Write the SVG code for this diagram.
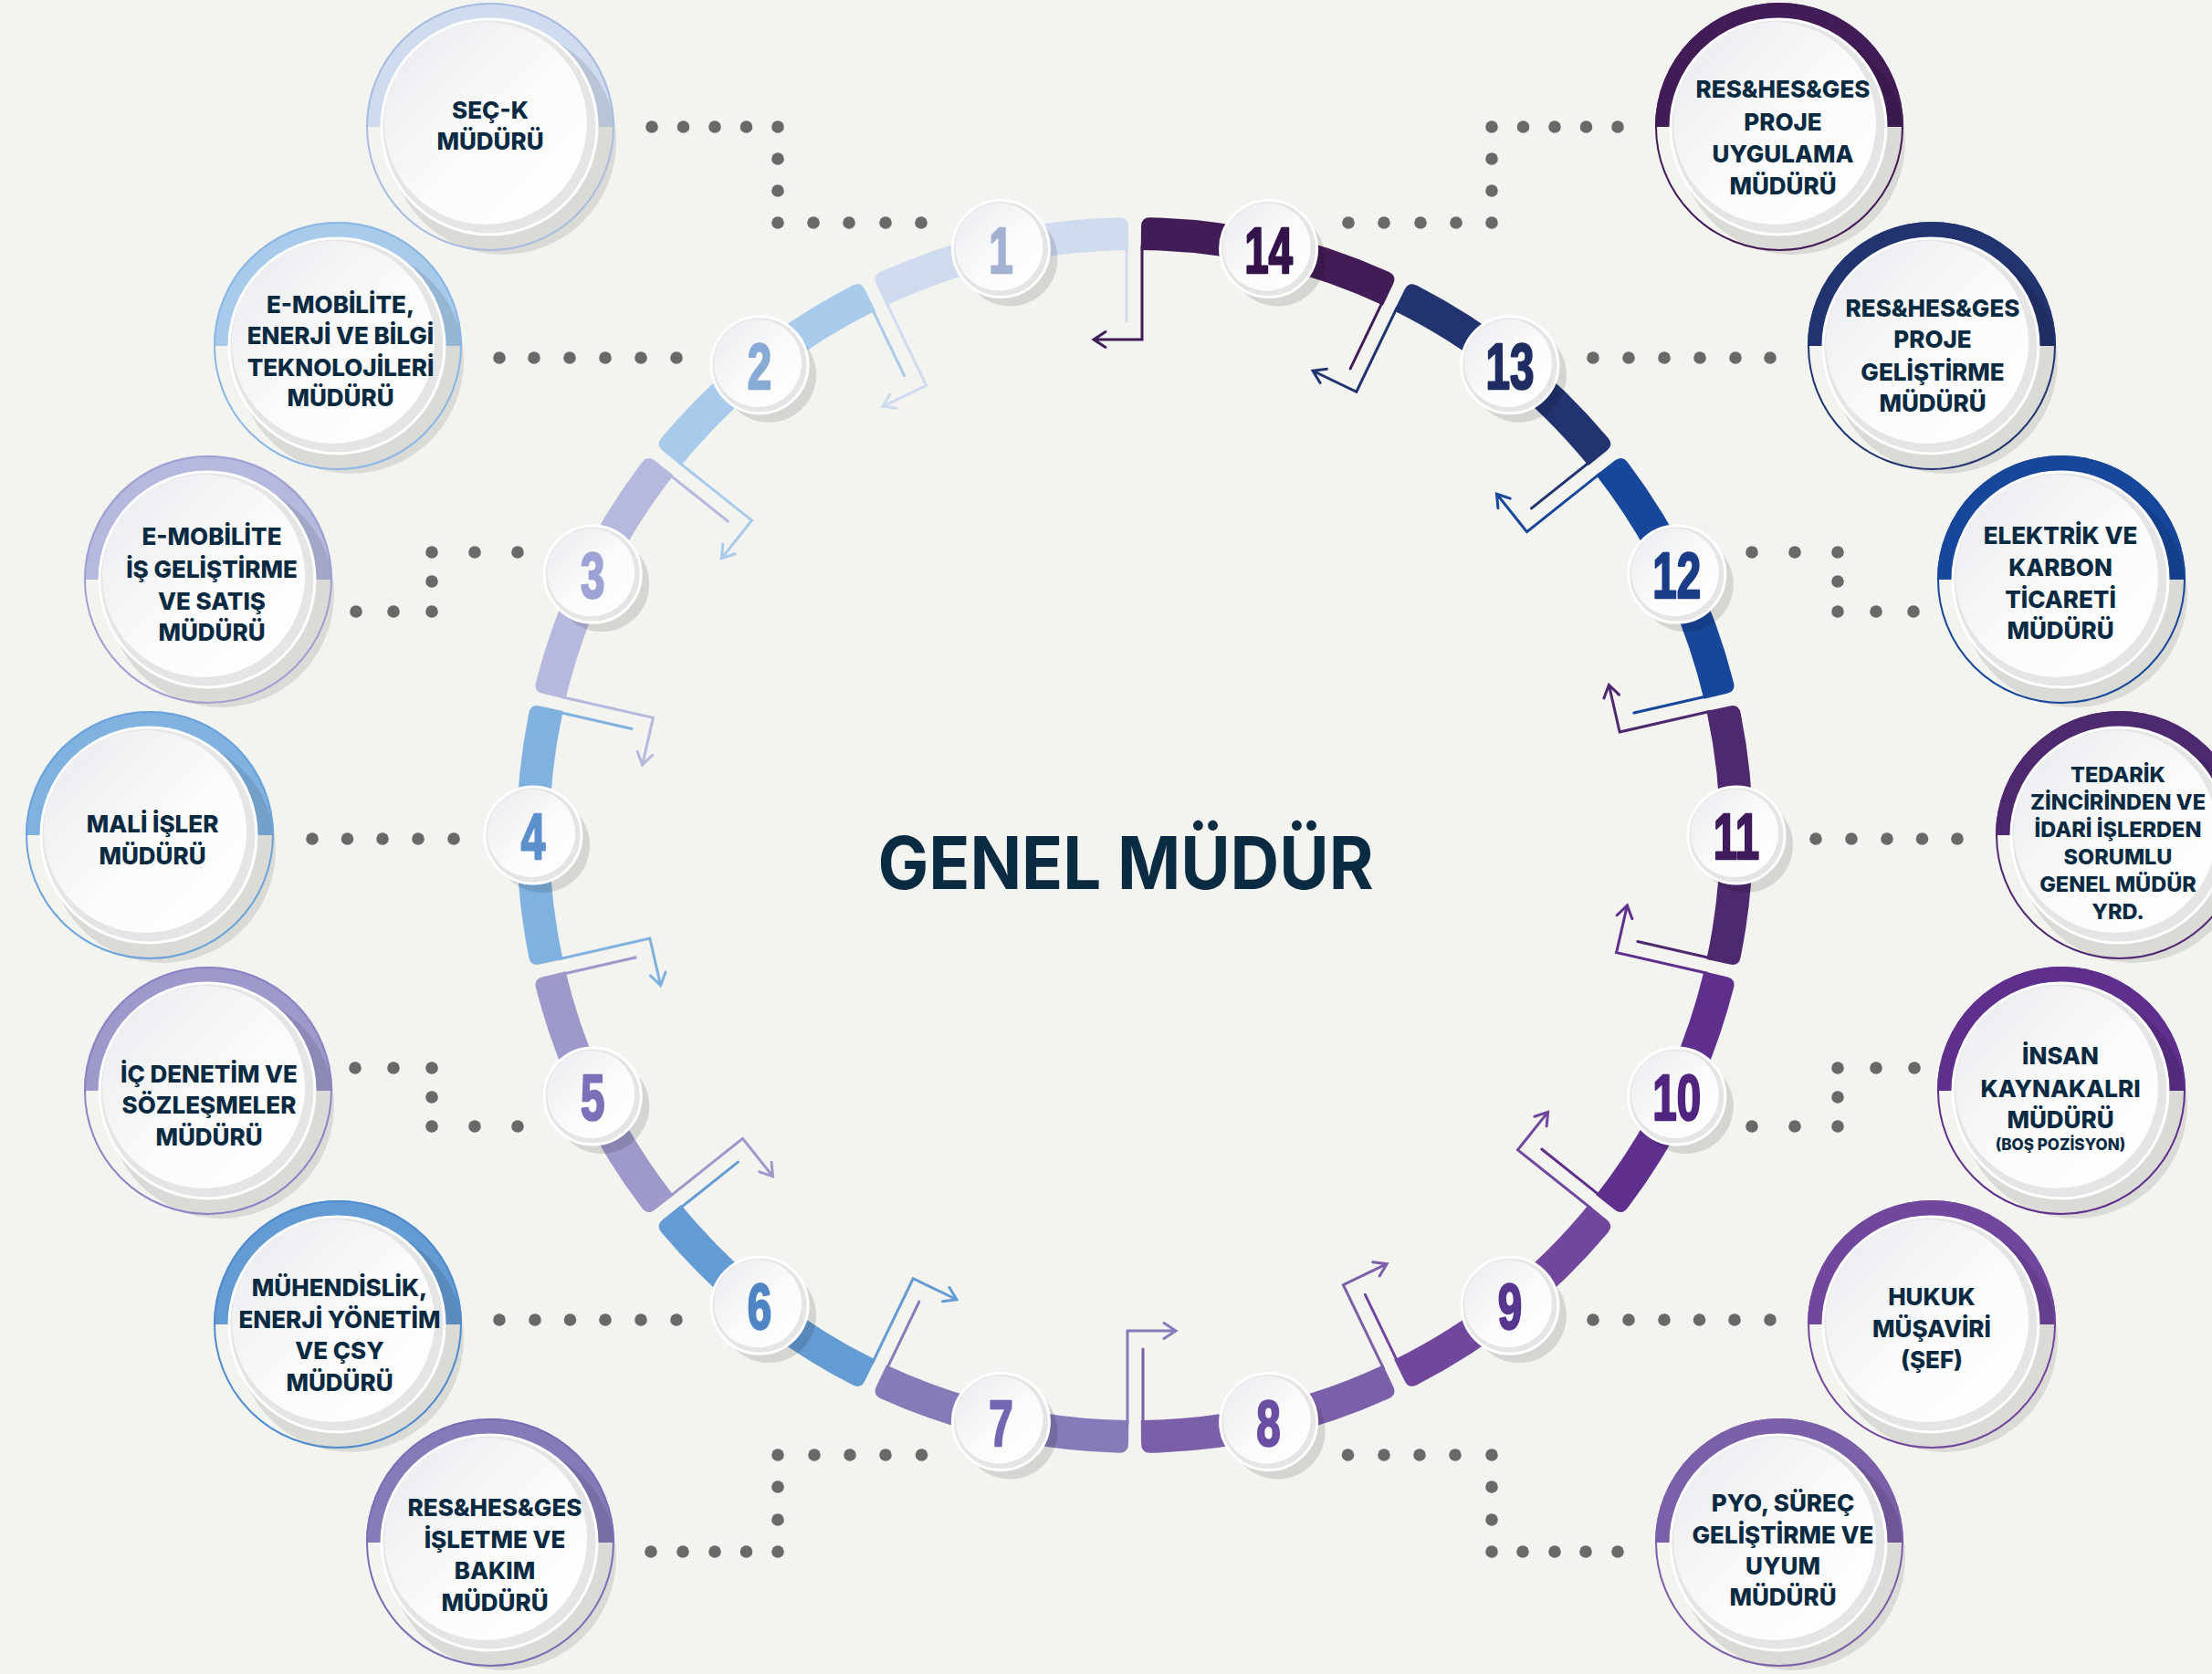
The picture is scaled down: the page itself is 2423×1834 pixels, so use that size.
<svg xmlns="http://www.w3.org/2000/svg" xmlns:xlink="http://www.w3.org/1999/xlink" width="2423" height="1834" viewBox="0 0 2423 1834">
<style>
.lbl{font-family:Inter,"Open Sans","Liberation Sans",sans-serif;font-weight:800;font-size:26px;fill:#0a2a42;text-anchor:middle}
.sm{font-size:23.5px}
.xs{font-size:17px}
.num{font-family:"Liberation Sans",Arial,sans-serif;font-weight:700;font-size:70px;text-anchor:middle;stroke-width:2.5;stroke-linejoin:round}
.dot{fill:#696969}
.sh{fill:#000;opacity:0.1}
.bsh{fill:#000;opacity:0.12}
.wb{fill:#e5e5e5;stroke:#ffffff;stroke-width:3}
.wt{fill:url(#gw)}
.ol{fill:none;stroke-width:2}
.ln{fill:none;stroke-width:3;stroke-linecap:round;stroke-linejoin:miter}
</style>
<defs>
<linearGradient id="gw" x1="0" y1="0" x2="1" y2="1">
<stop offset="0" stop-color="#e8eaee"/>
<stop offset="0.55" stop-color="#fbfbfb"/>
<stop offset="1" stop-color="#ffffff"/>
</linearGradient>
<path id="seg" d="M1249.7 274.0 L1250.0 248.0 Q1250.1 238.0 1260.1 238.2 A677 677 0 0 1 1521.2 297.8 Q1530.3 302.0 1526.1 311.0 L1515.0 334.6 A641 641 0 0 0 1249.7 274.0 Z"/>
<path id="ar" d="M1251 270 L1251 372 L1198 372 M1211 363.5 L1198 372 L1211 380.5"/>
<path id="sl" d="M1234 270 L1234 352"/>
</defs>
<rect width="2423" height="1834" fill="#f3f3ef"/>

<g id="ring">
<use href="#seg" fill="#421c57"/>
<use href="#seg" fill="#22346f" transform="rotate(25.7143 1243 915)"/>
<use href="#seg" fill="#17479a" transform="rotate(51.4286 1243 915)"/>
<use href="#seg" fill="#4f296f" transform="rotate(77.1429 1243 915)"/>
<use href="#seg" fill="#5e2f8c" transform="rotate(102.8571 1243 915)"/>
<use href="#seg" fill="#71479d" transform="rotate(128.5714 1243 915)"/>
<use href="#seg" fill="#7b5fa8" transform="rotate(154.2857 1243 915)"/>
<use href="#seg" fill="#857bb8" transform="rotate(180 1243 915)"/>
<use href="#seg" fill="#649bd3" transform="rotate(205.7143 1243 915)"/>
<use href="#seg" fill="#9d99cb" transform="rotate(231.4286 1243 915)"/>
<use href="#seg" fill="#80b2e0" transform="rotate(257.1429 1243 915)"/>
<use href="#seg" fill="#b6b9dd" transform="rotate(282.8571 1243 915)"/>
<use href="#seg" fill="#a8cbeb" transform="rotate(308.5714 1243 915)"/>
<use href="#seg" fill="#cfdcf0" transform="rotate(334.2857 1243 915)"/>
</g>

<g id="ring-arrows" class="ln">
<g><use href="#ar" stroke="#421c57"/><use href="#sl" stroke="#cfdcf0"/></g>
<g transform="rotate(25.7143 1243 915)"><use href="#ar" stroke="#22346f"/><use href="#sl" stroke="#421c57"/></g>
<g transform="rotate(51.4286 1243 915)"><use href="#ar" stroke="#17479a"/><use href="#sl" stroke="#22346f"/></g>
<g transform="rotate(77.1429 1243 915)"><use href="#ar" stroke="#4f296f"/><use href="#sl" stroke="#17479a"/></g>
<g transform="rotate(102.8571 1243 915)"><use href="#ar" stroke="#5e2f8c"/><use href="#sl" stroke="#4f296f"/></g>
<g transform="rotate(128.5714 1243 915)"><use href="#ar" stroke="#71479d"/><use href="#sl" stroke="#5e2f8c"/></g>
<g transform="rotate(154.2857 1243 915)"><use href="#ar" stroke="#7b5fa8"/><use href="#sl" stroke="#71479d"/></g>
<g transform="rotate(180 1243 915)"><use href="#ar" stroke="#857bb8"/><use href="#sl" stroke="#7b5fa8"/></g>
<g transform="rotate(205.7143 1243 915)"><use href="#ar" stroke="#649bd3"/><use href="#sl" stroke="#857bb8"/></g>
<g transform="rotate(231.4286 1243 915)"><use href="#ar" stroke="#9d99cb"/><use href="#sl" stroke="#649bd3"/></g>
<g transform="rotate(257.1429 1243 915)"><use href="#ar" stroke="#80b2e0"/><use href="#sl" stroke="#9d99cb"/></g>
<g transform="rotate(282.8571 1243 915)"><use href="#ar" stroke="#b6b9dd"/><use href="#sl" stroke="#80b2e0"/></g>
<g transform="rotate(308.5714 1243 915)"><use href="#ar" stroke="#a8cbeb"/><use href="#sl" stroke="#b6b9dd"/></g>
<g transform="rotate(334.2857 1243 915)"><use href="#ar" stroke="#cfdcf0"/><use href="#sl" stroke="#a8cbeb"/></g>
</g>

<g id="connectors" class="dot">
<circle cx="714" cy="139" r="6.8"/><circle cx="748.5" cy="139" r="6.8"/><circle cx="783" cy="139" r="6.8"/><circle cx="817.5" cy="139" r="6.8"/><circle cx="852" cy="139" r="6.8"/><circle cx="852" cy="174" r="6.8"/><circle cx="852" cy="209" r="6.8"/><circle cx="852" cy="244" r="6.8"/><circle cx="891" cy="244" r="6.8"/><circle cx="930" cy="244" r="6.8"/><circle cx="970" cy="244" r="6.8"/><circle cx="1009" cy="244" r="6.8"/>
<circle cx="1772" cy="139" r="6.8"/><circle cx="1737.5" cy="139" r="6.8"/><circle cx="1703" cy="139" r="6.8"/><circle cx="1668.5" cy="139" r="6.8"/><circle cx="1634" cy="139" r="6.8"/><circle cx="1634" cy="174" r="6.8"/><circle cx="1634" cy="209" r="6.8"/><circle cx="1634" cy="244" r="6.8"/><circle cx="1595" cy="244" r="6.8"/><circle cx="1556" cy="244" r="6.8"/><circle cx="1516" cy="244" r="6.8"/><circle cx="1477" cy="244" r="6.8"/>
<circle cx="547" cy="392" r="6.8"/><circle cx="585" cy="392" r="6.8"/><circle cx="624" cy="392" r="6.8"/><circle cx="663" cy="392" r="6.8"/><circle cx="702" cy="392" r="6.8"/><circle cx="741" cy="392" r="6.8"/>
<circle cx="1939" cy="392" r="6.8"/><circle cx="1901" cy="392" r="6.8"/><circle cx="1862" cy="392" r="6.8"/><circle cx="1823" cy="392" r="6.8"/><circle cx="1784" cy="392" r="6.8"/><circle cx="1745" cy="392" r="6.8"/>
<circle cx="390" cy="670" r="6.8"/><circle cx="431" cy="670" r="6.8"/><circle cx="473" cy="670" r="6.8"/><circle cx="473" cy="637" r="6.8"/><circle cx="473" cy="605" r="6.8"/><circle cx="520" cy="605" r="6.8"/><circle cx="567" cy="605" r="6.8"/>
<circle cx="2096" cy="670" r="6.8"/><circle cx="2055" cy="670" r="6.8"/><circle cx="2013" cy="670" r="6.8"/><circle cx="2013" cy="637" r="6.8"/><circle cx="2013" cy="605" r="6.8"/><circle cx="1966" cy="605" r="6.8"/><circle cx="1919" cy="605" r="6.8"/>
<circle cx="342" cy="919" r="6.8"/><circle cx="380.5" cy="919" r="6.8"/><circle cx="419" cy="919" r="6.8"/><circle cx="458" cy="919" r="6.8"/><circle cx="497" cy="919" r="6.8"/>
<circle cx="2144" cy="919" r="6.8"/><circle cx="2105.5" cy="919" r="6.8"/><circle cx="2067" cy="919" r="6.8"/><circle cx="2028" cy="919" r="6.8"/><circle cx="1989" cy="919" r="6.8"/>
<circle cx="389" cy="1170" r="6.8"/><circle cx="431" cy="1170" r="6.8"/><circle cx="473" cy="1170" r="6.8"/><circle cx="473" cy="1202" r="6.8"/><circle cx="473" cy="1234" r="6.8"/><circle cx="520" cy="1234" r="6.8"/><circle cx="567" cy="1234" r="6.8"/>
<circle cx="2097" cy="1170" r="6.8"/><circle cx="2055" cy="1170" r="6.8"/><circle cx="2013" cy="1170" r="6.8"/><circle cx="2013" cy="1202" r="6.8"/><circle cx="2013" cy="1234" r="6.8"/><circle cx="1966" cy="1234" r="6.8"/><circle cx="1919" cy="1234" r="6.8"/>
<circle cx="547" cy="1446" r="6.8"/><circle cx="586" cy="1446" r="6.8"/><circle cx="624.5" cy="1446" r="6.8"/><circle cx="663" cy="1446" r="6.8"/><circle cx="702" cy="1446" r="6.8"/><circle cx="741" cy="1446" r="6.8"/>
<circle cx="1939" cy="1446" r="6.8"/><circle cx="1900" cy="1446" r="6.8"/><circle cx="1861.5" cy="1446" r="6.8"/><circle cx="1823" cy="1446" r="6.8"/><circle cx="1784" cy="1446" r="6.8"/><circle cx="1745" cy="1446" r="6.8"/>
<circle cx="713" cy="1700" r="6.8"/><circle cx="748" cy="1700" r="6.8"/><circle cx="783" cy="1700" r="6.8"/><circle cx="817.5" cy="1700" r="6.8"/><circle cx="852" cy="1700" r="6.8"/><circle cx="852" cy="1665" r="6.8"/><circle cx="852" cy="1629" r="6.8"/><circle cx="852" cy="1594" r="6.8"/><circle cx="892" cy="1594" r="6.8"/><circle cx="931" cy="1594" r="6.8"/><circle cx="970" cy="1594" r="6.8"/><circle cx="1009.5" cy="1594" r="6.8"/>
<circle cx="1772" cy="1700" r="6.8"/><circle cx="1737" cy="1700" r="6.8"/><circle cx="1703" cy="1700" r="6.8"/><circle cx="1668" cy="1700" r="6.8"/><circle cx="1634" cy="1700" r="6.8"/><circle cx="1634" cy="1665" r="6.8"/><circle cx="1634" cy="1629" r="6.8"/><circle cx="1634" cy="1594" r="6.8"/><circle cx="1594" cy="1594" r="6.8"/><circle cx="1555" cy="1594" r="6.8"/><circle cx="1516" cy="1594" r="6.8"/><circle cx="1476.5" cy="1594" r="6.8"/>
</g>

<g id="badge-1"><circle class="bsh" cx="1106.4" cy="283.5" r="52"/><circle class="wb" cx="1096.4" cy="272.5" r="53"/><circle class="wt" cx="1094.4" cy="270.5" r="48"/><text class="num" fill="#a3b2d3" stroke="#a3b2d3" transform="translate(1096.4 298.5) scale(0.68 1)">1</text></g>
<g id="badge-2"><circle class="bsh" cx="842.1" cy="410.8" r="52"/><circle class="wb" cx="832.1" cy="399.8" r="53"/><circle class="wt" cx="830.1" cy="397.8" r="48"/><text class="num" fill="#87abd4" stroke="#87abd4" transform="translate(832.1 425.8) scale(0.68 1)">2</text></g>
<g id="badge-3"><circle class="bsh" cx="659.2" cy="640.1" r="52"/><circle class="wb" cx="649.2" cy="629.1" r="53"/><circle class="wt" cx="647.2" cy="627.1" r="48"/><text class="num" fill="#9ea2d4" stroke="#9ea2d4" transform="translate(649.2 655.1) scale(0.68 1)">3</text></g>
<g id="badge-4"><circle class="bsh" cx="594" cy="926" r="52"/><circle class="wb" cx="584" cy="915" r="53"/><circle class="wt" cx="582" cy="913" r="48"/><text class="num" fill="#5c8fcc" stroke="#5c8fcc" transform="translate(584 941) scale(0.68 1)">4</text></g>
<g id="badge-5"><circle class="bsh" cx="659.2" cy="1211.9" r="52"/><circle class="wb" cx="649.2" cy="1200.9" r="53"/><circle class="wt" cx="647.2" cy="1198.9" r="48"/><text class="num" fill="#7a71b8" stroke="#7a71b8" transform="translate(649.2 1226.9) scale(0.68 1)">5</text></g>
<g id="badge-6"><circle class="bsh" cx="842.1" cy="1441.2" r="52"/><circle class="wb" cx="832.1" cy="1430.2" r="53"/><circle class="wt" cx="830.1" cy="1428.2" r="48"/><text class="num" fill="#4f85c4" stroke="#4f85c4" transform="translate(832.1 1456.2) scale(0.68 1)">6</text></g>
<g id="badge-7"><circle class="bsh" cx="1106.4" cy="1568.5" r="52"/><circle class="wb" cx="1096.4" cy="1557.5" r="53"/><circle class="wt" cx="1094.4" cy="1555.5" r="48"/><text class="num" fill="#7467b1" stroke="#7467b1" transform="translate(1096.4 1583.5) scale(0.68 1)">7</text></g>
<g id="badge-8"><circle class="bsh" cx="1399.6" cy="1568.5" r="52"/><circle class="wb" cx="1389.6" cy="1557.5" r="53"/><circle class="wt" cx="1387.6" cy="1555.5" r="48"/><text class="num" fill="#6a4fa3" stroke="#6a4fa3" transform="translate(1389.6 1583.5) scale(0.68 1)">8</text></g>
<g id="badge-9"><circle class="bsh" cx="1663.9" cy="1441.2" r="52"/><circle class="wb" cx="1653.9" cy="1430.2" r="53"/><circle class="wt" cx="1651.9" cy="1428.2" r="48"/><text class="num" fill="#57368f" stroke="#57368f" transform="translate(1653.9 1456.2) scale(0.68 1)">9</text></g>
<g id="badge-10"><circle class="bsh" cx="1846.8" cy="1211.9" r="52"/><circle class="wb" cx="1836.8" cy="1200.9" r="53"/><circle class="wt" cx="1834.8" cy="1198.9" r="48"/><text class="num" fill="#50247f" stroke="#50247f" transform="translate(1836.8 1226.9) scale(0.68 1)">10</text></g>
<g id="badge-11"><circle class="bsh" cx="1912" cy="926" r="52"/><circle class="wb" cx="1902" cy="915" r="53"/><circle class="wt" cx="1900" cy="913" r="48"/><text class="num" fill="#3f1b5c" stroke="#3f1b5c" transform="translate(1902 941) scale(0.68 1)">11</text></g>
<g id="badge-12"><circle class="bsh" cx="1846.8" cy="640.1" r="52"/><circle class="wb" cx="1836.8" cy="629.1" r="53"/><circle class="wt" cx="1834.8" cy="627.1" r="48"/><text class="num" fill="#1b3d87" stroke="#1b3d87" transform="translate(1836.8 655.1) scale(0.68 1)">12</text></g>
<g id="badge-13"><circle class="bsh" cx="1663.9" cy="410.8" r="52"/><circle class="wb" cx="1653.9" cy="399.8" r="53"/><circle class="wt" cx="1651.9" cy="397.8" r="48"/><text class="num" fill="#1f2d62" stroke="#1f2d62" transform="translate(1653.9 425.8) scale(0.68 1)">13</text></g>
<g id="badge-14"><circle class="bsh" cx="1399.6" cy="283.5" r="52"/><circle class="wb" cx="1389.6" cy="272.5" r="53"/><circle class="wt" cx="1387.6" cy="270.5" r="48"/><text class="num" fill="#33134a" stroke="#33134a" transform="translate(1389.6 298.5) scale(0.68 1)">14</text></g>

<g id="node-sec-k">
<path d="M401 139 A136 136 0 0 1 673 139 Z" fill="#cfdcf0"/>
<circle class="sh" cx="551" cy="155" r="124"/>
<circle class="ol" cx="537" cy="139" r="135" stroke="#a9bce0"/>
<circle class="wb" cx="536" cy="139" r="118"/><circle class="wt" cx="532" cy="135" r="111"/>
<text class="lbl" x="537" y="130">SEÇ-K</text>
<text class="lbl" x="537" y="164">MÜDÜRÜ</text>
</g>
<g id="node-emobilite-bilgi">
<path d="M234 379 A136 136 0 0 1 506 379 Z" fill="#a8cbeb"/>
<circle class="sh" cx="384" cy="395" r="124"/>
<circle class="ol" cx="370" cy="379" r="135" stroke="#8ab6e4"/>
<circle class="wb" cx="369" cy="379" r="118"/><circle class="wt" cx="365" cy="375" r="111"/>
<text class="lbl" x="373" y="343">E-MOBİLİTE,</text>
<text class="lbl" x="373" y="377">ENERJİ VE BİLGİ</text>
<text class="lbl" x="373" y="412">TEKNOLOJİLERİ</text>
<text class="lbl" x="373" y="445">MÜDÜRÜ</text>
</g>
<g id="node-emobilite-satis">
<path d="M92 635 A136 136 0 0 1 364 635 Z" fill="#b6b9dd"/>
<circle class="sh" cx="242" cy="651" r="124"/>
<circle class="ol" cx="228" cy="635" r="135" stroke="#a09fd4"/>
<circle class="wb" cx="227" cy="635" r="118"/><circle class="wt" cx="223" cy="631" r="111"/>
<text class="lbl" x="232" y="597">E-MOBİLİTE</text>
<text class="lbl" x="232" y="633">İŞ GELİŞTİRME</text>
<text class="lbl" x="232" y="668">VE SATIŞ</text>
<text class="lbl" x="232" y="702">MÜDÜRÜ</text>
</g>
<g id="node-mali-isler">
<path d="M28 915 A136 136 0 0 1 300 915 Z" fill="#80b2e0"/>
<circle class="sh" cx="178" cy="931" r="124"/>
<circle class="ol" cx="164" cy="915" r="135" stroke="#6aa3db"/>
<circle class="wb" cx="163" cy="915" r="118"/><circle class="wt" cx="159" cy="911" r="111"/>
<text class="lbl" x="167" y="912">MALİ İŞLER</text>
<text class="lbl" x="167" y="947">MÜDÜRÜ</text>
</g>
<g id="node-ic-denetim">
<path d="M92 1195 A136 136 0 0 1 364 1195 Z" fill="#9d99cb"/>
<circle class="sh" cx="242" cy="1211" r="124"/>
<circle class="ol" cx="228" cy="1195" r="135" stroke="#8a84c4"/>
<circle class="wb" cx="227" cy="1195" r="118"/><circle class="wt" cx="223" cy="1191" r="111"/>
<text class="lbl" x="229" y="1186">İÇ DENETİM VE</text>
<text class="lbl" x="229" y="1220">SÖZLEŞMELER</text>
<text class="lbl" x="229" y="1255">MÜDÜRÜ</text>
</g>
<g id="node-muhendislik">
<path d="M234 1451 A136 136 0 0 1 506 1451 Z" fill="#649bd3"/>
<circle class="sh" cx="384" cy="1467" r="124"/>
<circle class="ol" cx="370" cy="1451" r="135" stroke="#4f8bcf"/>
<circle class="wb" cx="369" cy="1451" r="118"/><circle class="wt" cx="365" cy="1447" r="111"/>
<text class="lbl" x="372" y="1420">MÜHENDİSLİK,</text>
<text class="lbl" x="372" y="1455">ENERJİ YÖNETİM</text>
<text class="lbl" x="372" y="1489">VE ÇSY</text>
<text class="lbl" x="372" y="1524">MÜDÜRÜ</text>
</g>
<g id="node-isletme-bakim">
<path d="M401 1690 A136 136 0 0 1 673 1690 Z" fill="#857bb8"/>
<circle class="sh" cx="551" cy="1706" r="124"/>
<circle class="ol" cx="537" cy="1690" r="135" stroke="#7a6db4"/>
<circle class="wb" cx="536" cy="1690" r="118"/><circle class="wt" cx="532" cy="1686" r="111"/>
<text class="lbl" x="542" y="1661">RES&amp;HES&amp;GES</text>
<text class="lbl" x="542" y="1696">İŞLETME VE</text>
<text class="lbl" x="542" y="1730">BAKIM</text>
<text class="lbl" x="542" y="1765">MÜDÜRÜ</text>
</g>
<g id="node-proje-uygulama">
<path d="M1813 139 A136 136 0 0 1 2085 139 Z" fill="#421c57"/>
<circle class="sh" cx="1963" cy="155" r="124"/>
<circle class="ol" cx="1949" cy="139" r="135" stroke="#421c57"/>
<circle class="wb" cx="1948" cy="139" r="118"/><circle class="wt" cx="1944" cy="135" r="111"/>
<text class="lbl" x="1953" y="107">RES&amp;HES&amp;GES</text>
<text class="lbl" x="1953" y="143">PROJE</text>
<text class="lbl" x="1953" y="178">UYGULAMA</text>
<text class="lbl" x="1953" y="213">MÜDÜRÜ</text>
</g>
<g id="node-proje-gelistirme">
<path d="M1980 379 A136 136 0 0 1 2252 379 Z" fill="#22346f"/>
<circle class="sh" cx="2130" cy="395" r="124"/>
<circle class="ol" cx="2116" cy="379" r="135" stroke="#22346f"/>
<circle class="wb" cx="2115" cy="379" r="118"/><circle class="wt" cx="2111" cy="375" r="111"/>
<text class="lbl" x="2117" y="347">RES&amp;HES&amp;GES</text>
<text class="lbl" x="2117" y="381">PROJE</text>
<text class="lbl" x="2117" y="417">GELİŞTİRME</text>
<text class="lbl" x="2117" y="451">MÜDÜRÜ</text>
</g>
<g id="node-elektrik-karbon">
<path d="M2122 635 A136 136 0 0 1 2394 635 Z" fill="#17479a"/>
<circle class="sh" cx="2272" cy="651" r="124"/>
<circle class="ol" cx="2258" cy="635" r="135" stroke="#17479a"/>
<circle class="wb" cx="2257" cy="635" r="118"/><circle class="wt" cx="2253" cy="631" r="111"/>
<text class="lbl" x="2257" y="596">ELEKTRİK VE</text>
<text class="lbl" x="2257" y="631">KARBON</text>
<text class="lbl" x="2257" y="666">TİCARETİ</text>
<text class="lbl" x="2257" y="700">MÜDÜRÜ</text>
</g>
<g id="node-tedarik">
<path d="M2186 915 A136 136 0 0 1 2458 915 Z" fill="#4f296f"/>
<circle class="sh" cx="2336" cy="931" r="124"/>
<circle class="ol" cx="2322" cy="915" r="135" stroke="#4f296f"/>
<circle class="wb" cx="2321" cy="915" r="118"/><circle class="wt" cx="2317" cy="911" r="111"/>
<text class="lbl sm" x="2320" y="857">TEDARİK</text>
<text class="lbl sm" x="2320" y="887">ZİNCİRİNDEN VE</text>
<text class="lbl sm" x="2320" y="917">İDARİ İŞLERDEN</text>
<text class="lbl sm" x="2320" y="947">SORUMLU</text>
<text class="lbl sm" x="2320" y="977">GENEL MÜDÜR</text>
<text class="lbl sm" x="2320" y="1007">YRD.</text>
</g>
<g id="node-insan-kaynaklari">
<path d="M2122 1195 A136 136 0 0 1 2394 1195 Z" fill="#5e2f8c"/>
<circle class="sh" cx="2272" cy="1211" r="124"/>
<circle class="ol" cx="2258" cy="1195" r="135" stroke="#5e2f8c"/>
<circle class="wb" cx="2257" cy="1195" r="118"/><circle class="wt" cx="2253" cy="1191" r="111"/>
<text class="lbl" x="2257" y="1166">İNSAN</text>
<text class="lbl" x="2257" y="1202">KAYNAKALRI</text>
<text class="lbl" x="2257" y="1236">MÜDÜRÜ</text>
<text class="lbl xs" x="2257" y="1260">(BOŞ POZİSYON)</text>
</g>
<g id="node-hukuk">
<path d="M1980 1451 A136 136 0 0 1 2252 1451 Z" fill="#71479d"/>
<circle class="sh" cx="2130" cy="1467" r="124"/>
<circle class="ol" cx="2116" cy="1451" r="135" stroke="#71479d"/>
<circle class="wb" cx="2115" cy="1451" r="118"/><circle class="wt" cx="2111" cy="1447" r="111"/>
<text class="lbl" x="2116" y="1430">HUKUK</text>
<text class="lbl" x="2116" y="1465">MÜŞAVİRİ</text>
<text class="lbl" x="2116" y="1499">(ŞEF)</text>
</g>
<g id="node-pyo">
<path d="M1813 1690 A136 136 0 0 1 2085 1690 Z" fill="#7b5fa8"/>
<circle class="sh" cx="1963" cy="1706" r="124"/>
<circle class="ol" cx="1949" cy="1690" r="135" stroke="#7b5fa8"/>
<circle class="wb" cx="1948" cy="1690" r="118"/><circle class="wt" cx="1944" cy="1686" r="111"/>
<text class="lbl" x="1953" y="1656">PYO, SÜREÇ</text>
<text class="lbl" x="1953" y="1691">GELİŞTİRME VE</text>
<text class="lbl" x="1953" y="1725">UYUM</text>
<text class="lbl" x="1953" y="1759">MÜDÜRÜ</text>
</g>

<g id="genel-mudur">
<text x="1233" y="974" font-family="Inter,'Open Sans','Liberation Sans',sans-serif" font-weight="700" font-size="80" fill="#0a2b42" text-anchor="middle" textLength="543" lengthAdjust="spacingAndGlyphs">GENEL MÜDÜR</text>
</g>
</svg>
